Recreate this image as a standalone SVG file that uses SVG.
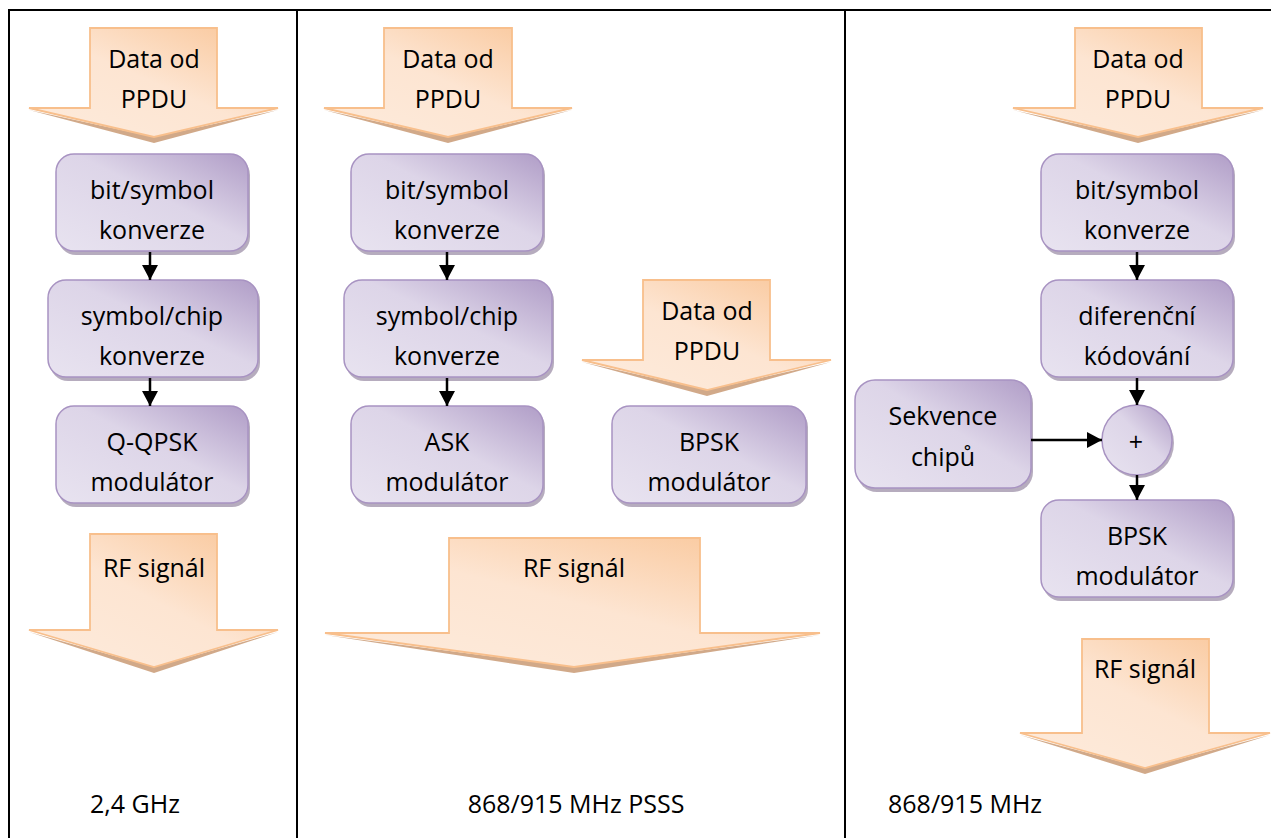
<svg xmlns="http://www.w3.org/2000/svg" width="1271" height="838" viewBox="0 0 1271 838">
<defs>
<linearGradient id="gBox" x1="1" y1="0" x2="0" y2="1">
<stop offset="0" stop-color="#b09dc7"/>
<stop offset="0.45" stop-color="#ddd5e8"/>
<stop offset="1" stop-color="#e8e3f0"/>
</linearGradient>
<linearGradient id="gArr" x1="1" y1="0" x2="0" y2="1">
<stop offset="0" stop-color="#f9c495"/>
<stop offset="0.5" stop-color="#fde5d2"/>
<stop offset="1" stop-color="#fdebdc"/>
</linearGradient>
<marker id="ah" viewBox="0 0 15 16" refX="15" refY="8" markerWidth="15" markerHeight="16" orient="auto" markerUnits="userSpaceOnUse">
<path d="M0,0 L15,8 L0,16 Z" fill="#000"/>
</marker>
</defs>
<style>
.box{fill:url(#gBox);stroke:#a893c2;stroke-width:1.5}
.bsh{fill:#9d90a8;opacity:0.75}
.arr{fill:url(#gArr);stroke:#f8bf8c;stroke-width:1.8}
.ash{fill:#c99a74;opacity:0.85}
.t{font-family:"Open Sans",sans-serif;font-size:25px;fill:#000;text-anchor:middle}
.lb{font-family:"Open Sans",sans-serif;font-size:25px;fill:#000}
.grid{stroke:#000;stroke-width:2;fill:none}
.con{stroke:#000;stroke-width:2.5;fill:none;marker-end:url(#ah)}
</style>
<rect width="1271" height="838" fill="#fff"/>
<g id="grid">
<line class="grid" x1="8" y1="10" x2="1271" y2="10"/>
<line class="grid" x1="9" y1="10" x2="9" y2="838"/>
<line class="grid" x1="297" y1="10" x2="297" y2="838"/>
<line class="grid" x1="845" y1="10" x2="845" y2="838"/>
</g>

<!-- Column 1 -->
<g id="c1_data">
<polygon class="ash" points="29,110 154,137 278,110 154,143"/>
<polygon class="arr" points="90,28 217,28 217,108 278,108 154,137 29,108 90,108"/>
<text class="t" x="154" y="68">Data od</text>
<text class="t" x="154" y="108">PPDU</text>
</g>
<g id="c1_bitsym">
<rect class="bsh" x="58" y="157" width="192" height="98" rx="18"/>
<rect class="box" x="56" y="154" width="192" height="97" rx="18"/>
<text class="t" x="152" y="199">bit/symbol</text>
<text class="t" x="152" y="239">konverze</text>
</g>
<g id="c1_symchip">
<rect class="bsh" x="50" y="283" width="210" height="98" rx="18"/>
<rect class="box" x="48" y="280" width="210" height="97" rx="18"/>
<text class="t" x="152" y="325">symbol/chip</text>
<text class="t" x="152" y="365">konverze</text>
</g>
<g id="c1_qpsk">
<rect class="bsh" x="58" y="409" width="192" height="98" rx="18"/>
<rect class="box" x="56" y="406" width="192" height="97" rx="18"/>
<text class="t" x="152" y="451">Q-QPSK</text>
<text class="t" x="152" y="491">modulátor</text>
</g>
<g id="c1_rf">
<polygon class="ash" points="29,632 154,667 278,632 154,673"/>
<polygon class="arr" points="90,534 217,534 217,630 278,630 154,667 29,630 90,630"/>
<text class="t" x="154" y="577">RF signál</text>
</g>
<text class="lb" x="90" y="813">2,4 GHz</text>

<!-- Column 2 -->
<g id="c2_data">
<polygon class="ash" points="324,110 448,137 572,110 448,143"/>
<polygon class="arr" points="384,28 512,28 512,108 572,108 448,137 324,108 384,108"/>
<text class="t" x="448" y="68">Data od</text>
<text class="t" x="448" y="108">PPDU</text>
</g>
<g id="c2_bitsym">
<rect class="bsh" x="353" y="157" width="192" height="98" rx="18"/>
<rect class="box" x="351" y="154" width="192" height="97" rx="18"/>
<text class="t" x="447" y="199">bit/symbol</text>
<text class="t" x="447" y="239">konverze</text>
</g>
<g id="c2_symchip">
<rect class="bsh" x="346" y="283" width="208" height="98" rx="18"/>
<rect class="box" x="344" y="280" width="208" height="97" rx="18"/>
<text class="t" x="447" y="325">symbol/chip</text>
<text class="t" x="447" y="365">konverze</text>
</g>
<g id="c2_ask">
<rect class="bsh" x="353" y="409" width="192" height="98" rx="18"/>
<rect class="box" x="351" y="406" width="192" height="97" rx="18"/>
<text class="t" x="447" y="451">ASK</text>
<text class="t" x="447" y="491">modulátor</text>
</g>
<g id="c2_data2">
<polygon class="ash" points="582,362 707,390 831,362 707,396"/>
<polygon class="arr" points="643,280 770,280 770,360 831,360 707,390 582,360 643,360"/>
<text class="t" x="707" y="320">Data od</text>
<text class="t" x="707" y="360">PPDU</text>
</g>
<g id="c2_bpsk">
<rect class="bsh" x="614" y="409" width="194" height="98" rx="18"/>
<rect class="box" x="612" y="406" width="194" height="97" rx="18"/>
<text class="t" x="709" y="451">BPSK</text>
<text class="t" x="709" y="491">modulátor</text>
</g>
<g id="c2_rf">
<polygon class="ash" points="325,635 574,667 820,635 574,673"/>
<polygon class="arr" points="449,538 700,538 700,633 820,633 574,667 325,633 449,633"/>
<text class="t" x="574" y="577">RF signál</text>
</g>
<text class="lb" x="576" y="813" text-anchor="middle">868/915 MHz PSSS</text>

<!-- Column 3 -->
<g id="c3_data">
<polygon class="ash" points="1013,110 1138,137 1263,110 1138,143"/>
<polygon class="arr" points="1075,28 1202,28 1202,108 1263,108 1138,137 1013,108 1075,108"/>
<text class="t" x="1138" y="68">Data od</text>
<text class="t" x="1138" y="108">PPDU</text>
</g>
<g id="c3_bitsym">
<rect class="bsh" x="1043" y="157" width="192" height="98" rx="18"/>
<rect class="box" x="1041" y="154" width="192" height="97" rx="18"/>
<text class="t" x="1137" y="199">bit/symbol</text>
<text class="t" x="1137" y="239">konverze</text>
</g>
<g id="c3_dif">
<rect class="bsh" x="1043" y="283" width="192" height="98" rx="18"/>
<rect class="box" x="1041" y="280" width="192" height="97" rx="18"/>
<text class="t" x="1137" y="325">diferenční</text>
<text class="t" x="1137" y="365">kódování</text>
</g>
<g id="c3_seq">
<rect class="bsh" x="857" y="383" width="176" height="109" rx="20"/>
<rect class="box" x="855" y="380" width="176" height="108" rx="20"/>
<text class="t" x="943" y="425">Sekvence</text>
<text class="t" x="943" y="466">chipů</text>
</g>
<g id="c3_plus">
<circle class="bsh" cx="1139" cy="443" r="35"/>
<circle class="box" cx="1137" cy="440" r="35"/>
<text class="lb" x="1136" y="451" text-anchor="middle" font-size="24">+</text>
</g>
<g id="c3_bpsk">
<rect class="bsh" x="1043" y="503" width="192" height="98" rx="18"/>
<rect class="box" x="1041" y="500" width="192" height="97" rx="18"/>
<text class="t" x="1137" y="545">BPSK</text>
<text class="t" x="1137" y="585">modulátor</text>
</g>
<g id="c3_rf">
<polygon class="ash" points="1020,735 1145,768 1270,735 1145,774"/>
<polygon class="arr" points="1082,639 1209,639 1209,733 1270,733 1145,768 1020,733 1082,733"/>
<text class="t" x="1145" y="678">RF signál</text>
</g>
<text class="lb" x="888" y="813">868/915 MHz</text>

<g id="connectors">
<line class="con" x1="150" y1="252" x2="150" y2="280"/>
<line class="con" x1="150" y1="378" x2="150" y2="406"/>
<line class="con" x1="447" y1="252" x2="447" y2="280"/>
<line class="con" x1="447" y1="378" x2="447" y2="406"/>
<line class="con" x1="1137" y1="252" x2="1137" y2="280"/>
<line class="con" x1="1137" y1="378" x2="1137" y2="405"/>
<line class="con" x1="1137" y1="475" x2="1137" y2="500"/>
<line class="con" x1="1031" y1="440" x2="1102" y2="440"/>
</g>
</svg>
